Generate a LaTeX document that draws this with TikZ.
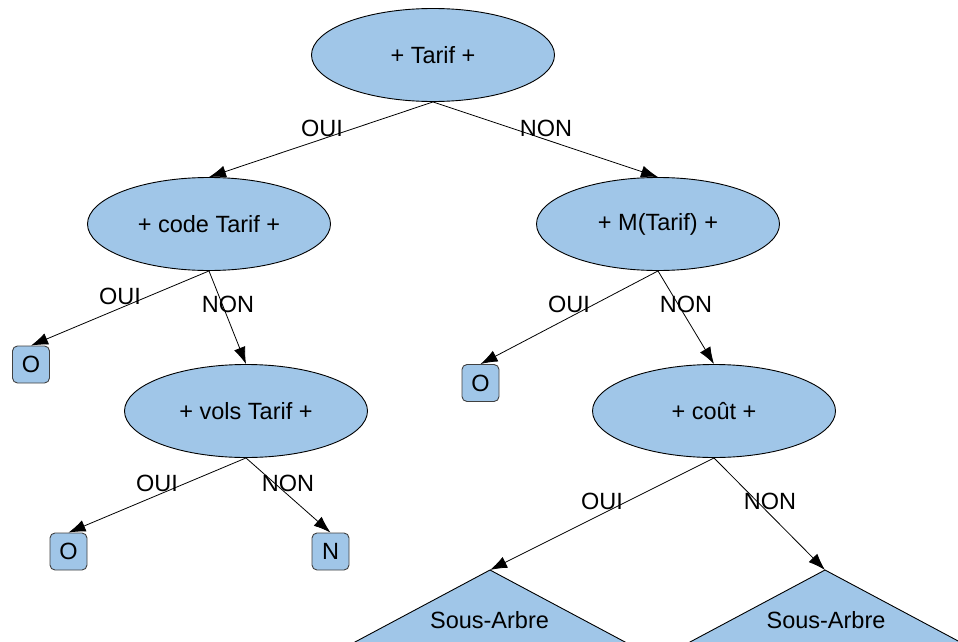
\documentclass[tikz,border=0pt]{standalone}
\usepackage{fontspec}
\setmainfont{Liberation Sans}
\usetikzlibrary{shapes.geometric,arrows.meta}
\definecolor{nodefill}{RGB}{160,198,232}
\tikzset{
  ell/.style={ellipse,draw=black,fill=nodefill,line width=0.9pt,minimum width=243pt,minimum height=93pt,inner sep=0pt,font=\fontsize{23.5}{27}\selectfont},
  leaf/.style={rectangle,rounded corners=5pt,draw=black!75,fill=nodefill,line width=0.9pt,minimum width=37pt,minimum height=37pt,inner sep=0pt,font=\fontsize{23.5}{27}\selectfont},
  lbl/.style={font=\fontsize{23.5}{27}\selectfont,inner sep=0pt},
  arr/.style={line width=0.8pt,-{Latex[length=17pt,width=12pt]}},
  tri/.style={draw=black,fill=nodefill,line width=0.9pt}
}
\begin{document}
\begin{tikzpicture}[x=1pt,y=-1pt]
\useasboundingbox (0,0) rectangle (958,642);
\clip (0,0) rectangle (958,642);
\node[ell] (tarif) at (433,55) {+ Tarif +};
\node[ell] (code) at (209,224) {+ code Tarif +};
\node[ell] (mt) at (658,224) {+ M(Tarif) +};
\node[ell] (vols) at (246,411) {+ vols Tarif +};
\node[ell] (cout) at (714,411) {+ coût +};
\node[leaf] (o1) at (31,364.5) {O};
\node[leaf] (o2) at (480.5,383) {O};
\node[leaf] (o3) at (68.5,551.5) {O};
\node[leaf] (n1) at (330.5,551.5) {N};
\coordinate (ta) at (490,570);
\coordinate (tb) at (825,570);
\draw[tri] (ta) -- ++(-187.5,100) -- ++(375,0) -- cycle;
\draw[tri] (tb) -- ++(-187.5,100) -- ++(375,0) -- cycle;
\node[lbl] (sa1) at (489.5,620) {Sous-Arbre};
\node[lbl] (sa2) at (826,620) {Sous-Arbre};
\draw[arr] (tarif.south) -- (code.north);
\draw[arr] (tarif.south) -- (mt.north);
\draw[arr] (code.south) -- (o1.north);
\draw[arr] (code.south) -- (vols.north);
\draw[arr] (mt.south) -- (o2.north);
\draw[arr] (mt.south) -- (cout.north);
\draw[arr] (vols.south) -- (o3.north);
\draw[arr] (vols.south) -- (n1.north);
\draw[arr] (cout.south) -- (ta);
\draw[arr] (cout.south) -- (tb);
\node[lbl] (l1) at (322,128) {OUI};
\node[lbl] (l2) at (546,128) {NON};
\node[lbl] (l3) at (120,296) {OUI};
\node[lbl] (l4) at (228,304) {NON};
\node[lbl] (l5) at (569,304) {OUI};
\node[lbl] (l6) at (686,304) {NON};
\node[lbl] (l7) at (157,483) {OUI};
\node[lbl] (l8) at (288,483) {NON};
\node[lbl] (l9) at (602,501) {OUI};
\node[lbl] (l10) at (770,501) {NON};
\end{tikzpicture}
\end{document}
